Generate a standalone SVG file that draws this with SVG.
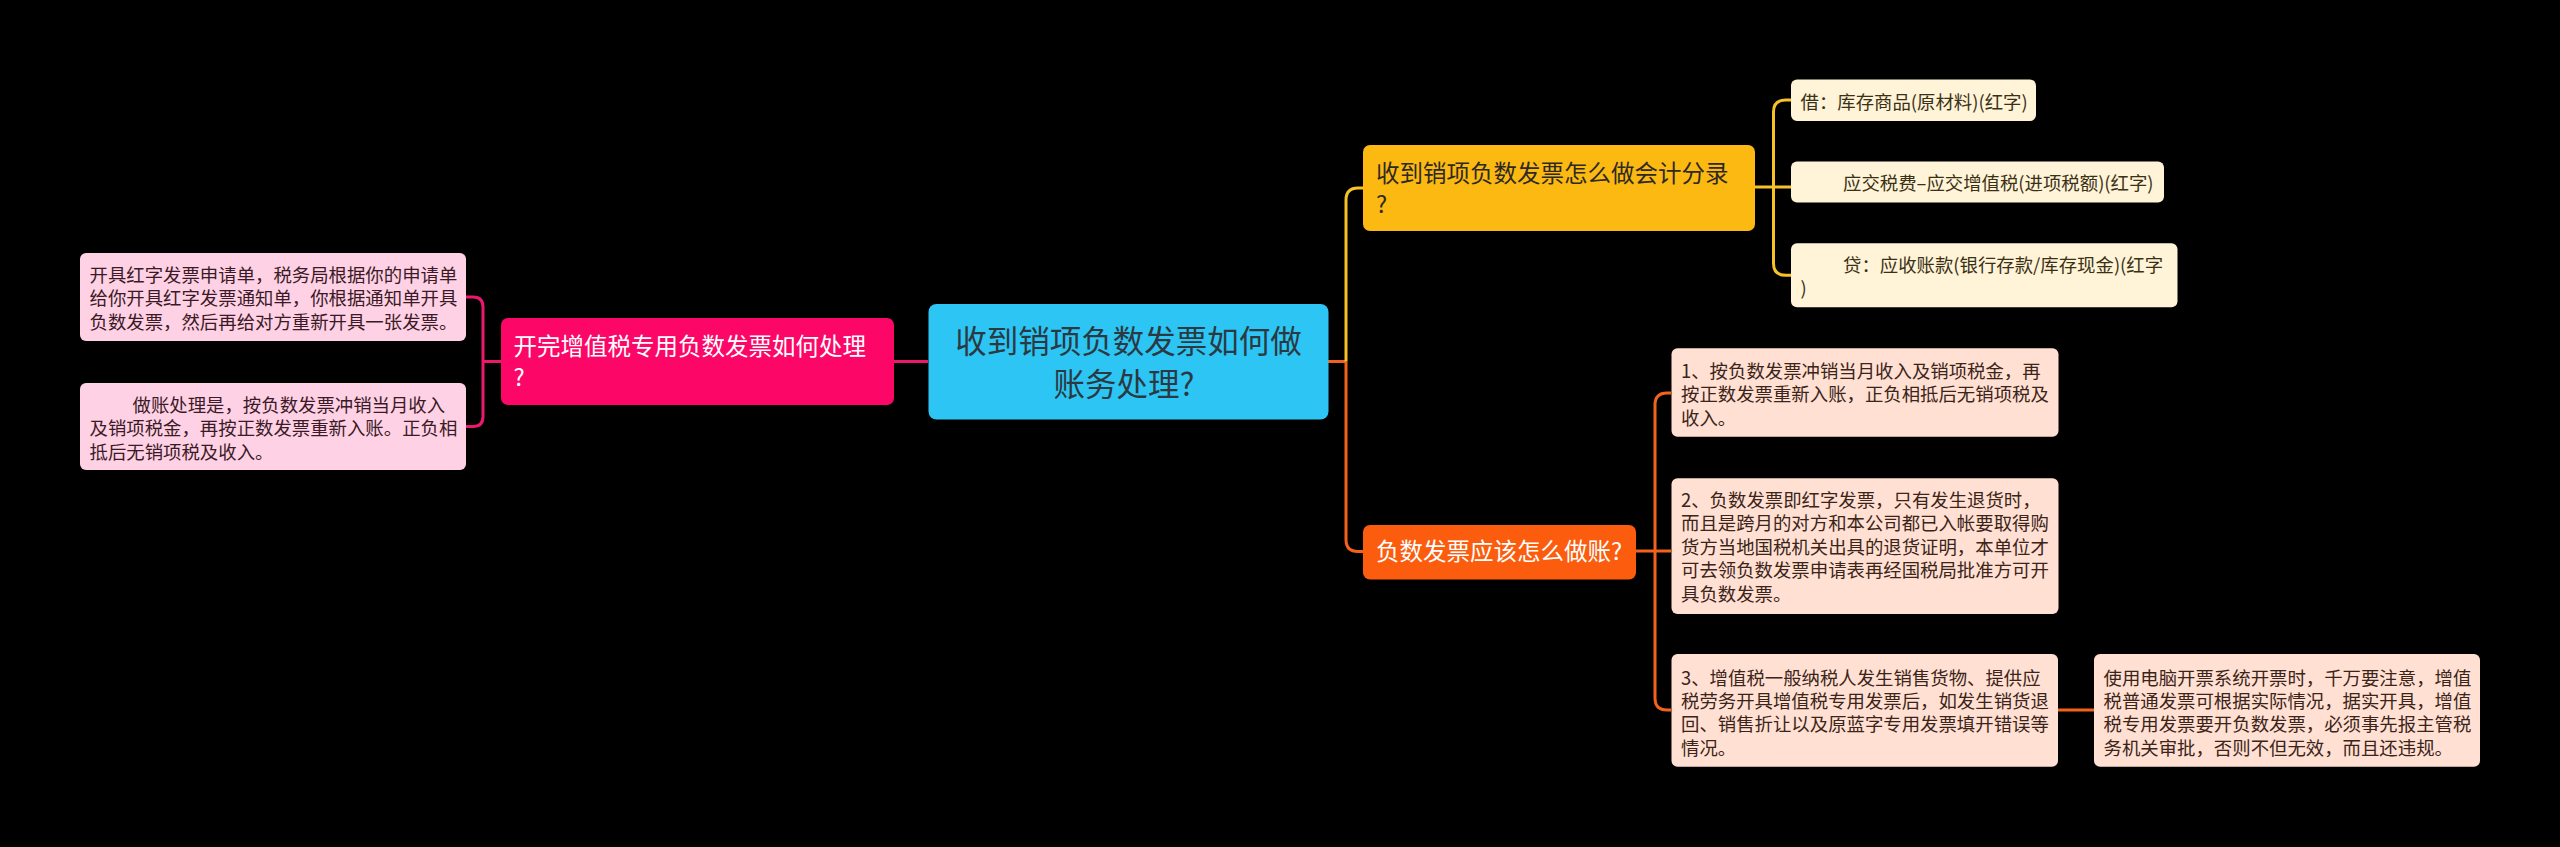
<svg xmlns="http://www.w3.org/2000/svg" width="2560" height="847" viewBox="0 0 2560 847">
<style>
text{font-family:"Noto Sans CJK SC","Noto Sans",sans-serif;}
.c{font-size:31.5px;fill:#2b3a42;text-anchor:middle;}
.b{font-size:23.5px;}
.w{fill:#ffffff;}
.d{fill:#2e2a22;}
.l{font-size:18.4px;}
.lp{fill:#3a1a27;}
.ly{fill:#3a3115;}
.lo{fill:#3b2419;}
.cp{fill:none;stroke:#ec186e;stroke-width:3;}
.cy{fill:none;stroke:#f7c128;stroke-width:3;}
.co{fill:none;stroke:#f2621c;stroke-width:3;}
</style>
<rect width="2560" height="847" fill="#000000"/>
<g id="connectors">
<path class="cp" d="M928,361.5 H893"/>
<path class="cp" d="M501,361.5 H483 M483,361.5 V307 Q483,297 473,297 H466 M483,361.5 V416.5 Q483,426.5 473,426.5 H466"/>
<path class="co" d="M1328,361.5 H1346 M1346,361.5 V539.5 Q1346,551.5 1358,551.5 H1363"/>
<path class="cy" d="M1346,361.5 V200 Q1346,188 1358,188 H1363"/>
<path class="cy" d="M1755,187 H1791 M1773.5,187 V112 Q1773.5,100 1785.5,100 H1791 M1773.5,187 V263.3 Q1773.5,275.3 1785.5,275.3 H1791"/>
<path class="co" d="M1636,551 H1671 M1655,551 V405 Q1655,393 1667,393 H1671 M1655,551 V698 Q1655,710 1667,710 H1671"/>
<path class="co" d="M2058,710 H2094"/>
</g>
<g id="root">
<rect x="928.5" y="304" width="400" height="115.5" rx="8" fill="#2cc5f4"/>
<text class="c" x="1128.5" y="353">收到销项负数发票如何做</text>
<text class="c" x="1124" y="396">账务处理?</text>
</g>
<g id="branch-pink">
<rect x="501" y="318" width="393" height="87" rx="7" fill="#fc0767"/>
<text class="b w" x="513.5" y="354.5">开完增值税专用负数发票如何处理</text>
<text class="b w" x="513.5" y="385.5">?</text>
</g>
<g id="leaf-pink-1">
<rect x="80" y="253" width="386" height="88" rx="6" fill="#ffd1e4"/>
<text class="l lp" x="89.5" y="282">开具红字发票申请单，税务局根据你的申请单</text>
<text class="l lp" x="89.5" y="305.4">给你开具红字发票通知单，你根据通知单开具</text>
<text class="l lp" x="89.5" y="328.8">负数发票，然后再给对方重新开具一张发票。</text>
</g>
<g id="leaf-pink-2">
<rect x="80" y="383" width="386" height="87" rx="6" fill="#ffd1e4"/>
<text class="l lp" x="132.5" y="412">做账处理是，按负数发票冲销当月收入</text>
<text class="l lp" x="89.5" y="435.4">及销项税金，再按正数发票重新入账。正负相</text>
<text class="l lp" x="89.5" y="458.8">抵后无销项税及收入。</text>
</g>
<g id="branch-yellow">
<rect x="1363" y="145" width="392" height="86" rx="7" fill="#fcb912"/>
<text class="b d" x="1376" y="181.5">收到销项负数发票怎么做会计分录</text>
<text class="b d" x="1376" y="212.5">?</text>
</g>
<g id="leaf-yellow-1">
<rect x="1791" y="79.5" width="245" height="41.5" rx="6" fill="#fff3d8"/>
<text class="l ly" x="1800.5" y="109.3">借：库存商品(原材料)(红字)</text>
</g>
<g id="leaf-yellow-2">
<rect x="1791" y="161.5" width="373" height="41" rx="6" fill="#fff3d8"/>
<text class="l ly" x="1843" y="189.5">应交税费–应交增值税(进项税额)(红字)</text>
</g>
<g id="leaf-yellow-3">
<rect x="1791" y="243.3" width="386.5" height="64" rx="6" fill="#fff3d8"/>
<text class="l ly" x="1843" y="272">贷：应收账款(银行存款/库存现金)(红字</text>
<text class="l ly" x="1800.5" y="295.4">)</text>
</g>
<g id="branch-orange">
<rect x="1363" y="525" width="273" height="54.5" rx="7" fill="#fb5c0d"/>
<text class="b w" x="1376" y="560">负数发票应该怎么做账?</text>
</g>
<g id="leaf-orange-1">
<rect x="1671.5" y="348.3" width="387" height="88.5" rx="6" fill="#ffe0d2"/>
<text class="l lo" x="1681" y="377.8">1、按负数发票冲销当月收入及销项税金，再</text>
<text class="l lo" x="1681" y="401.2">按正数发票重新入账，正负相抵后无销项税及</text>
<text class="l lo" x="1681" y="424.6">收入。</text>
</g>
<g id="leaf-orange-2">
<rect x="1671.5" y="478.3" width="387" height="135.7" rx="6" fill="#ffe0d2"/>
<text class="l lo" x="1681" y="507">2、负数发票即红字发票，只有发生退货时，</text>
<text class="l lo" x="1681" y="530.4">而且是跨月的对方和本公司都已入帐要取得购</text>
<text class="l lo" x="1681" y="553.8">货方当地国税机关出具的退货证明，本单位才</text>
<text class="l lo" x="1681" y="577.2">可去领负数发票申请表再经国税局批准方可开</text>
<text class="l lo" x="1681" y="600.6">具负数发票。</text>
</g>
<g id="leaf-orange-3">
<rect x="1671.5" y="654" width="386.5" height="112.7" rx="6" fill="#ffe0d2"/>
<text class="l lo" x="1681" y="684.5">3、增值税一般纳税人发生销售货物、提供应</text>
<text class="l lo" x="1681" y="707.9">税劳务开具增值税专用发票后，如发生销货退</text>
<text class="l lo" x="1681" y="731.3">回、销售折让以及原蓝字专用发票填开错误等</text>
<text class="l lo" x="1681" y="754.7">情况。</text>
</g>
<g id="leaf-orange-4">
<rect x="2094" y="654" width="386" height="112.7" rx="6" fill="#ffe0d2"/>
<text class="l lo" x="2103.5" y="684.5">使用电脑开票系统开票时，千万要注意，增值</text>
<text class="l lo" x="2103.5" y="707.9">税普通发票可根据实际情况，据实开具，增值</text>
<text class="l lo" x="2103.5" y="731.3">税专用发票要开负数发票，必须事先报主管税</text>
<text class="l lo" x="2103.5" y="754.7">务机关审批，否则不但无效，而且还违规。</text>
</g>
</svg>
